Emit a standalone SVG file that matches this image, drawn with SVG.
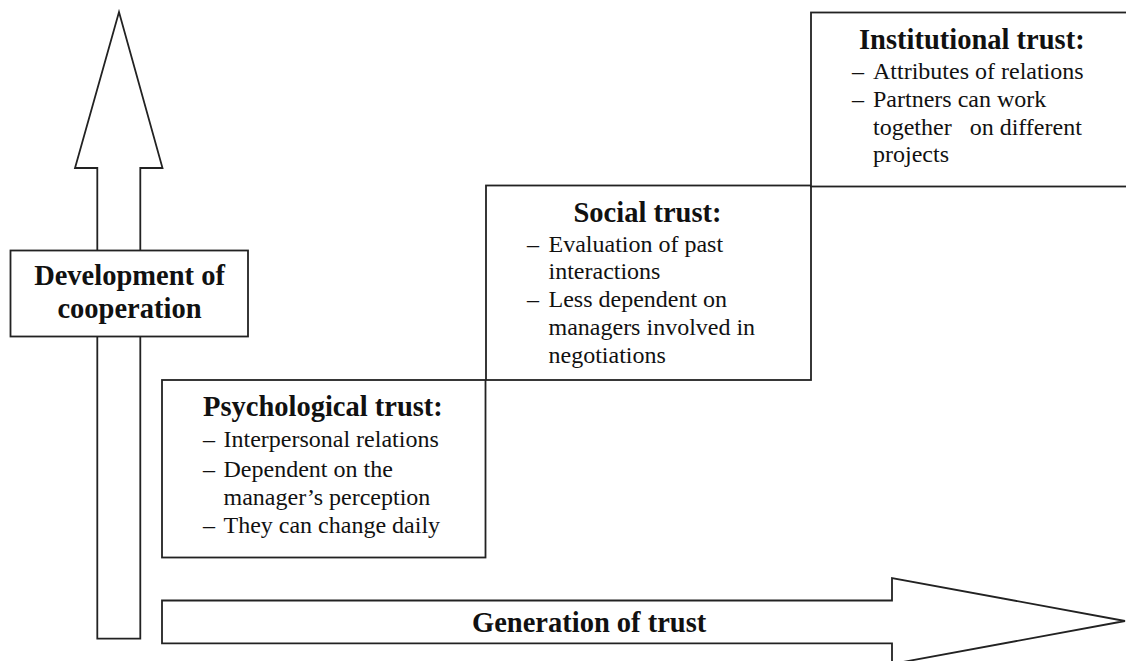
<svg xmlns="http://www.w3.org/2000/svg" width="1126" height="661" viewBox="0 0 1126 661">
<style>
.shape{fill:#fff;stroke:#222;stroke-width:1.8}
.title{font-family:"Liberation Serif","Times New Roman",serif;font-weight:bold;font-size:28.5px;fill:#111}
.item{font-family:"Liberation Serif","Times New Roman",serif;font-size:24px;fill:#111}
</style>
<rect width="1126" height="661" fill="#fff"/>
<g id="connectors">
<polygon id="arrow-up" class="shape" points="97.3,638.7 97.3,168 75,168 119,12 162.5,168 140.3,168 140.3,638.7"/>
<polygon id="arrow-right" class="shape" points="162,600.5 892,600.5 892,578 1125,621 892,664 892,643.3 162,643.3"/>
<text class="title" x="472" y="631.5">Generation of trust</text>
</g>
<g id="dev">
<rect class="shape" x="10.5" y="250.5" width="237.5" height="86"/>
<text class="title" x="129.5" y="285" text-anchor="middle">Development of</text>
<text class="title" x="129.5" y="318" text-anchor="middle">cooperation</text>
</g>
<g id="psych">
<rect class="shape" x="162" y="380" width="323.5" height="177.5"/>
<text class="title" x="203" y="416">Psychological trust:</text>
<text class="item" x="203" y="446.5">–</text><text class="item" x="223.5" y="446.5">Interpersonal relations</text>
<text class="item" x="203" y="476.5">–</text><text class="item" x="223.5" y="476.5">Dependent on the</text>
<text class="item" x="223.5" y="505">manager’s perception</text>
<text class="item" x="203" y="533">–</text><text class="item" x="223.5" y="533">They can change daily</text>
</g>
<g id="social">
<rect class="shape" x="486" y="185.5" width="325" height="194.5"/>
<text class="title" x="647.5" y="221.5" text-anchor="middle">Social trust:</text>
<text class="item" x="527" y="251.5">–</text><text class="item" x="548.5" y="251.5">Evaluation of past</text>
<text class="item" x="548.5" y="278.5">interactions</text>
<text class="item" x="527" y="306.5">–</text><text class="item" x="548.5" y="306.5">Less dependent on</text>
<text class="item" x="548.5" y="335">managers involved in</text>
<text class="item" x="548.5" y="362.5">negotiations</text>
</g>
<g id="institutional">
<rect class="shape" x="811" y="12.5" width="330" height="174"/>
<text class="title" x="859" y="49">Institutional trust:</text>
<text class="item" x="852" y="79">–</text><text class="item" x="873" y="79">Attributes of relations</text>
<text class="item" x="852" y="107">–</text><text class="item" x="873" y="107">Partners can work</text>
<text class="item" x="873" y="135" xml:space="preserve">together   on different</text>
<text class="item" x="873" y="162">projects</text>
</g>
</svg>
